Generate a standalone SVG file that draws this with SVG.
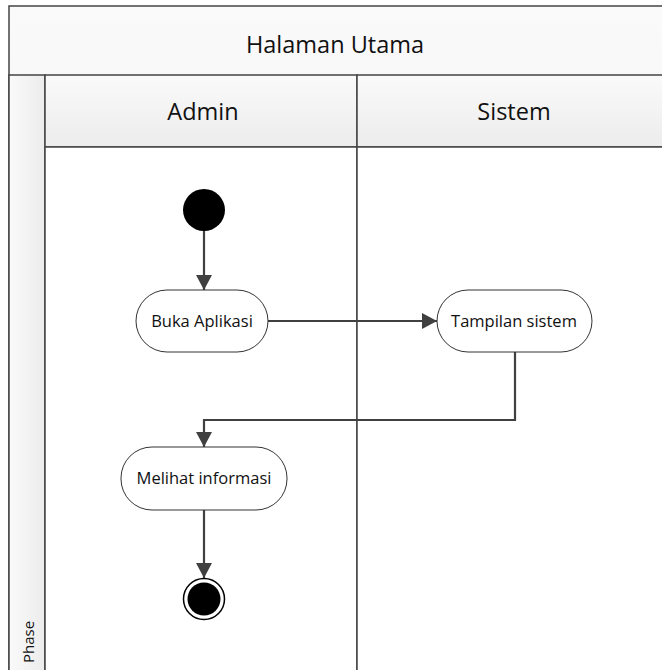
<svg xmlns="http://www.w3.org/2000/svg" width="662" height="670" viewBox="0 0 662 670">
  <defs>
    <linearGradient id="hdr" x1="0" y1="0" x2="0" y2="1">
      <stop offset="0" stop-color="#fafafa"/>
      <stop offset="1" stop-color="#ececec"/>
    </linearGradient>
    <linearGradient id="phaseFill" x1="0" y1="0" x2="1" y2="0">
      <stop offset="0" stop-color="#fafafa"/>
      <stop offset="1" stop-color="#ececec"/>
    </linearGradient>
    <marker id="arrow" viewBox="0 0 15 16" refX="15" refY="8" markerWidth="15" markerHeight="16" markerUnits="userSpaceOnUse" orient="auto">
      <path d="M0,0 L15,8 L0,16 Z" fill="#404040"/>
    </marker>
  </defs>
  <style>
    .frame { fill: url(#hdr); stroke: #444; stroke-width: 1.5; }
    .lane { fill: #ffffff; stroke: #444; stroke-width: 1.5; }
    .hdrtxt { font-family: "Open Sans", "Liberation Sans", sans-serif; font-size: 23.5px; fill: #111; text-anchor: middle; }
    .act { fill: #ffffff; stroke: #333; stroke-width: 1; }
    .acttxt { font-family: "Open Sans", "Liberation Sans", sans-serif; font-size: 16.5px; fill: #111; text-anchor: middle; }
    .phasetxt { font-family: "Open Sans", "Liberation Sans", sans-serif; font-size: 15px; fill: #111; }
    .flow { fill: none; stroke: #404040; stroke-width: 2.2; marker-end: url(#arrow); }
  </style>

  <!-- pool frame and swimlanes -->
  <g id="pool">
    <rect class="frame" x="9" y="6" width="670" height="680"/>
    <rect x="9" y="75" width="36" height="611" fill="url(#phaseFill)" stroke="#444" stroke-width="1.5"/>
    <rect class="frame" x="45" y="75" width="312" height="72"/>
    <rect class="frame" x="357" y="75" width="322" height="72"/>
    <rect class="lane" x="45" y="147" width="312" height="539"/>
    <rect class="lane" x="357" y="147" width="322" height="539"/>
    <text class="hdrtxt" x="335" y="53">Halaman Utama</text>
    <text class="hdrtxt" x="203" y="120">Admin</text>
    <text class="hdrtxt" x="514" y="120">Sistem</text>
    <text class="phasetxt" transform="translate(34,663) rotate(-90)">Phase</text>
  </g>

  <!-- connectors -->
  <g id="connectors">
    <path class="flow" d="M204,231 L204,290"/>
    <path class="flow" d="M268,321 L437,321"/>
    <path class="flow" d="M515,352 L515,420 L204,420 L204,447"/>
    <path class="flow" d="M204,510 L204,578"/>
  </g>

  <g id="start">
    <circle cx="204" cy="210" r="21" fill="#000"/>
  </g>

  <g id="buka-aplikasi">
    <rect class="act" x="136" y="290" width="132" height="62" rx="31" ry="31"/>
    <text class="acttxt" x="202" y="327">Buka Aplikasi</text>
  </g>

  <g id="tampilan-sistem">
    <rect class="act" x="437" y="290" width="155" height="62" rx="31" ry="31"/>
    <text class="acttxt" x="514" y="327">Tampilan sistem</text>
  </g>

  <g id="melihat-informasi">
    <rect class="act" x="121" y="447" width="166" height="63" rx="31" ry="31"/>
    <text class="acttxt" x="204" y="484">Melihat informasi</text>
  </g>

  <g id="end">
    <circle cx="204" cy="599" r="20.5" fill="#fff" stroke="#000" stroke-width="1.5"/>
    <circle cx="204" cy="599" r="16.5" fill="#000"/>
  </g>
</svg>
